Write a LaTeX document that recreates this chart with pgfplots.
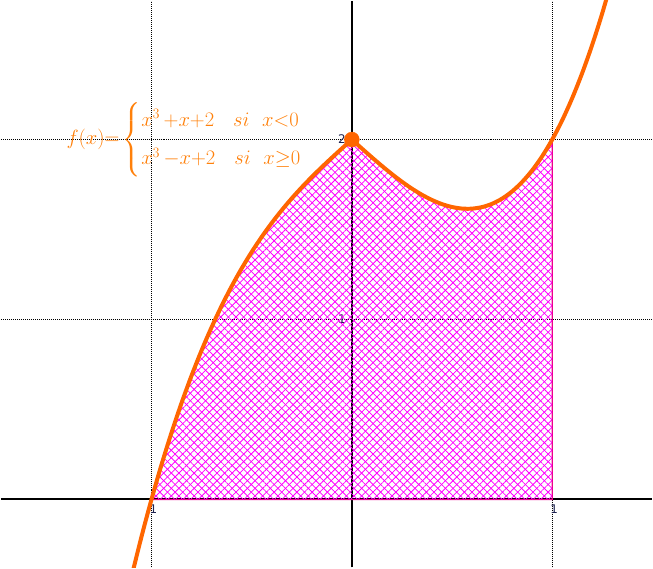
\documentclass[border=0pt]{standalone}
\usepackage{amsmath}
\usepackage{fontspec}
\newfontfamily\tickfont{DejaVu Sans}
\usepackage{pgfplots}
\pgfplotsset{compat=1.18}
\usetikzlibrary{patterns.meta}
\definecolor{curveorange}{RGB}{255,102,0}
\definecolor{formulaorange}{RGB}{255,128,10}
\definecolor{ticktext}{RGB}{30,35,80}
\begin{document}
\begin{tikzpicture}
\begin{axis}[
    scale only axis,
    width=653bp, height=568bp,
    xmin=-1.751, xmax=1.498,
    ymin=-0.377, ymax=2.77,
    axis lines=middle,
    axis line style={-, line width=2bp, black},
    xtick={-1,1}, ytick={1,2},
    xticklabels={1,1}, yticklabels={1,2},
    major tick length=0pt,
    grid=major,
    major grid style={dash pattern=on 1bp off 1bp, black, line width=0.8bp},
    tick label style={font=\tickfont\fontsize{12}{14}\selectfont, text=ticktext, inner sep=1bp},
    xticklabel style={anchor=north, xshift=2bp, yshift=-4bp},
    yticklabel style={anchor=east, xshift=-5bp},
]
    % hatched area under f between -1 and 1
    \addplot[draw=magenta, line width=1.2bp,
        pattern={Lines[angle=45, distance=5.4bp, line width=0.8bp]}, pattern color=magenta]
        coordinates {
        (-1.00,0) (-0.95,0.192625) (-0.90,0.371) (-0.85,0.535875) (-0.80,0.688)
        (-0.75,0.828125) (-0.70,0.957) (-0.65,1.075375) (-0.60,1.184) (-0.55,1.283625)
        (-0.50,1.375) (-0.45,1.458875) (-0.40,1.536) (-0.35,1.607125) (-0.30,1.673)
        (-0.25,1.734375) (-0.20,1.792) (-0.15,1.846625) (-0.10,1.899) (-0.05,1.949875)
        (0.00,2) (0.05,1.950125) (0.10,1.901) (0.15,1.853375) (0.20,1.808)
        (0.25,1.765625) (0.30,1.727) (0.35,1.692875) (0.40,1.664) (0.45,1.641125)
        (0.50,1.625) (0.55,1.616375) (0.60,1.616) (0.65,1.624625) (0.70,1.643)
        (0.75,1.671875) (0.80,1.712) (0.85,1.764125) (0.90,1.829) (0.95,1.907375)
        (1.00,2)
        } \closedcycle;
    \addplot[draw=none,
        pattern={Lines[angle=-45, distance=5.4bp, line width=0.8bp]}, pattern color=magenta]
        coordinates {
        (-1.00,0) (-0.95,0.192625) (-0.90,0.371) (-0.85,0.535875) (-0.80,0.688)
        (-0.75,0.828125) (-0.70,0.957) (-0.65,1.075375) (-0.60,1.184) (-0.55,1.283625)
        (-0.50,1.375) (-0.45,1.458875) (-0.40,1.536) (-0.35,1.607125) (-0.30,1.673)
        (-0.25,1.734375) (-0.20,1.792) (-0.15,1.846625) (-0.10,1.899) (-0.05,1.949875)
        (0.00,2) (0.05,1.950125) (0.10,1.901) (0.15,1.853375) (0.20,1.808)
        (0.25,1.765625) (0.30,1.727) (0.35,1.692875) (0.40,1.664) (0.45,1.641125)
        (0.50,1.625) (0.55,1.616375) (0.60,1.616) (0.65,1.624625) (0.70,1.643)
        (0.75,1.671875) (0.80,1.712) (0.85,1.764125) (0.90,1.829) (0.95,1.907375)
        (1.00,2)
        } \closedcycle;

    % left branch x^3+x+2
    \addplot[curveorange, line width=4bp, smooth] coordinates {
        (-1.10,-0.431) (-1.05,-0.207625) (-1.00,0) (-0.95,0.192625) (-0.90,0.371)
        (-0.85,0.535875) (-0.80,0.688) (-0.75,0.828125) (-0.70,0.957) (-0.65,1.075375)
        (-0.60,1.184) (-0.55,1.283625) (-0.50,1.375) (-0.45,1.458875) (-0.40,1.536)
        (-0.35,1.607125) (-0.30,1.673) (-0.25,1.734375) (-0.20,1.792) (-0.15,1.846625)
        (-0.10,1.899) (-0.05,1.949875) (0.00,2)
    };
    % right branch x^3-x+2
    \addplot[curveorange, line width=4bp, smooth] coordinates {
        (0.00,2) (0.05,1.950125) (0.10,1.901) (0.15,1.853375) (0.20,1.808)
        (0.25,1.765625) (0.30,1.727) (0.35,1.692875) (0.40,1.664) (0.45,1.641125)
        (0.50,1.625) (0.55,1.616375) (0.60,1.616) (0.65,1.624625) (0.70,1.643)
        (0.75,1.671875) (0.80,1.712) (0.85,1.764125) (0.90,1.829) (0.95,1.907375)
        (1.00,2) (1.05,2.107625) (1.10,2.231) (1.15,2.370875) (1.20,2.528)
        (1.25,2.703125) (1.30,2.897)
    };
    \addplot[only marks, mark=*, mark size=7.5bp, curveorange] coordinates {(0,2)};

    \node[anchor=west, text=formulaorange, font=\fontsize{21}{25}\selectfont, inner sep=0pt]
        at (axis cs:-1.425,2.0)
        {$f(x){=}\begin{cases} x^3\,{+}x{+}2\ \ \ si\ \ x{<}0\\[9bp] x^3\,{-}x{+}2\ \ \ si\ \ x{\geq}0\end{cases}$};
\end{axis}
\end{tikzpicture}
\end{document}
